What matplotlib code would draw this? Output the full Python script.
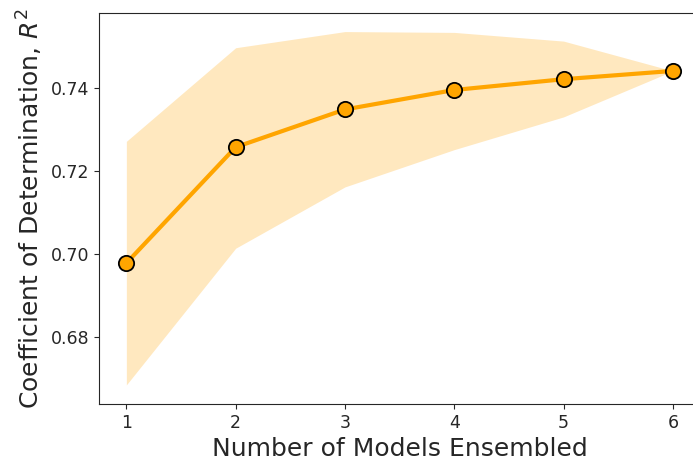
import numpy as np
import matplotlib.pyplot as plt

n_models = [1, 2, 3, 4, 5, 6]
r2_mean = [0.6978, 0.7258, 0.7349, 0.7396, 0.7422, 0.7442]
r2_low = [0.6684, 0.7014, 0.7162, 0.7252, 0.7331, 0.7442]
r2_high = [0.7272, 0.7498, 0.7537, 0.7535, 0.7514, 0.7442]

dark = '0.15'
plt.rcParams['axes.edgecolor'] = dark
plt.rcParams['xtick.color'] = dark
plt.rcParams['ytick.color'] = dark
plt.rcParams['axes.labelcolor'] = dark

fig = plt.figure(figsize=(6.93, 4.65), dpi=100)
ax = fig.add_axes([0.1429, 0.1312, 0.8675, 0.841])

ax.fill_between(n_models, r2_low, r2_high, color='orange', alpha=0.25, linewidth=0)
ax.plot(n_models, r2_mean, color='orange', linewidth=3, marker='o',
        markersize=11, markerfacecolor='orange', markeredgecolor='black',
        markeredgewidth=1.3)

ax.set_xlim(0.75, 6.25)
ax.set_ylim(0.6638, 0.7582)
ax.set_yticks([0.68, 0.70, 0.72, 0.74])
ax.tick_params(labelsize=12.5)
ax.set_xlabel('Number of Models Ensembled', fontsize=18)
ax.set_ylabel('Coefficient of Determination, $R^2$', fontsize=18)

fig.savefig('out.png', dpi=100)
